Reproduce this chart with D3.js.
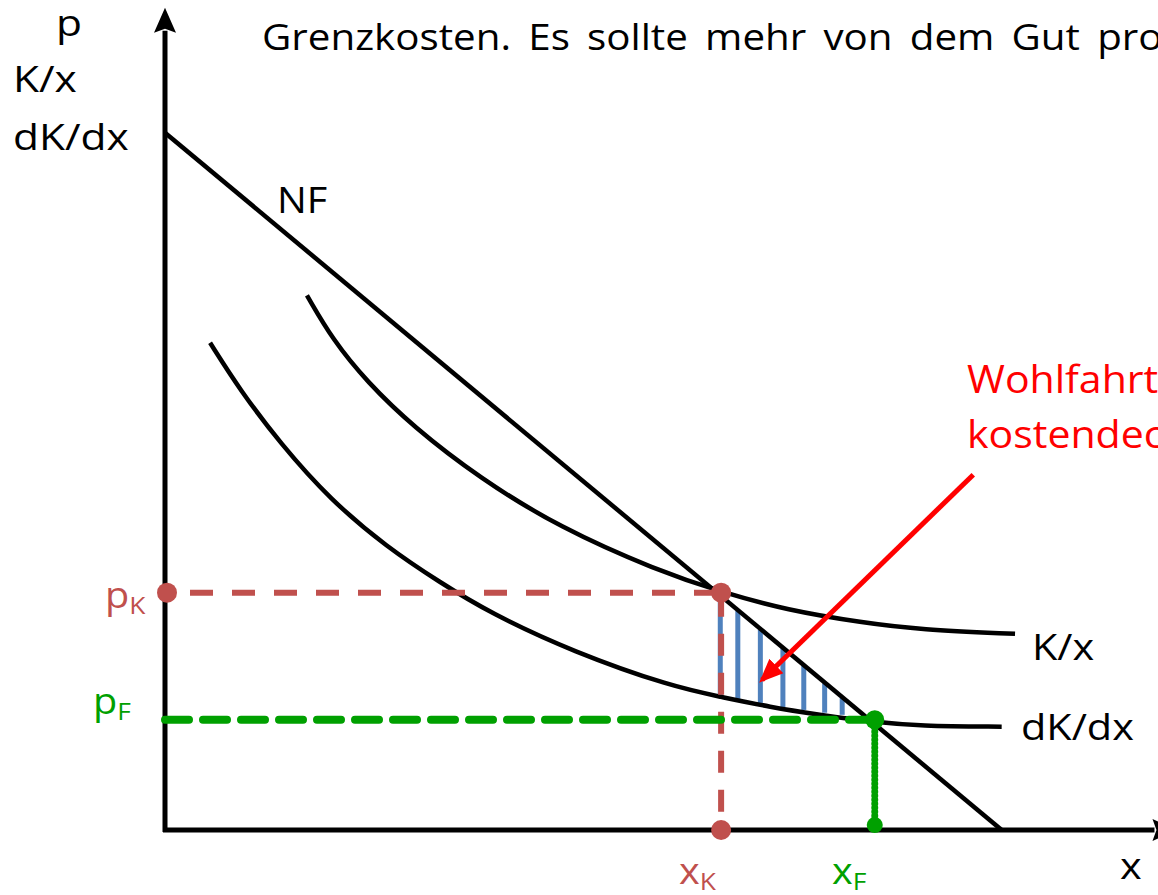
<!doctype html>
<html>
<head>
<meta charset="UTF-8" />
<title>Wohlfahrtsverlust bei Kostendeckung</title>
<script src="https://d3js.org/d3.v7.min.js"></script>
<style>
body { margin: 0; background: #fff; }
svg { display: block; font-family: "Open Sans", sans-serif; }
.axis { stroke: #000; stroke-width: 5px; fill: none; }
.curve { fill: none; stroke: #000; stroke-width: 4.5px; }
.hatch { stroke: #4f81bd; stroke-width: 5px; }
.kline { stroke: #c0504d; stroke-width: 6px; stroke-dasharray: 23 19; fill: none; }
.fline { stroke: #00a000; stroke-width: 8px; stroke-dasharray: 24 14; stroke-linecap: round; fill: none; }
.fdots { stroke: #00a000; stroke-width: 7px; stroke-dasharray: 0 4; stroke-linecap: round; fill: none; }
.lbl { font-size: 36px; fill: #000; }
</style>
</head>
<body>
<svg id="chart"></svg>
<script>
	// Nachfrage (NF), Durchschnittskosten (K/x), Grenzkosten (dK/dx)
	var nfX = [0, 10.02],
		nfY = [9.99, 0];

	var kxX = [1.70, 2.01, 2.42, 2.97, 3.77, 4.73, 5.89, 6.66, 7.45, 8.36, 9.04, 10.18],
		kxY = [7.66, 7.02, 6.42, 5.78, 5.04, 4.33, 3.72, 3.41, 3.15, 2.97, 2.87, 2.81];

	var mcX = [0.54, 0.90, 1.38, 1.98, 2.66, 3.29, 3.89, 4.89, 6.08, 6.65, 7.25, 7.84, 8.44, 9.04, 10.02],
		mcY = [6.98, 6.30, 5.54, 4.73, 4.05, 3.55, 3.11, 2.55, 2.05, 1.91, 1.76, 1.65, 1.55, 1.49, 1.48];

	// Kostendeckung (K) und First-Best (F)
	var xK = 6.66, pK = 3.40,
		xF = 8.50, pF = 1.58;

	// Schraffur des Wohlfahrtsverlusts
	var hatchX   = [6.65, 6.86, 7.13, 7.40, 7.65, 7.90, 8.11],
		hatchTop = [3.36, 3.14, 2.87, 2.60, 2.35, 2.10, 1.89],
		hatchLow = [1.91, 1.87, 1.82, 1.76, 1.72, 1.68, 1.65];

	var arrowFrom = [9.68, 5.09],
		arrowTo   = [7.15, 2.15];

	var topText = "Grenzkosten. Es sollte mehr von dem Gut produziert werden.";
	var noteText = ["Wohlfahrtsverlust bei", "kostendeckendem Preis"];

	var width = 1158, height = 895;

	var x = d3.scaleLinear().domain([0, 10]).range([165, 1000]);
	var y = d3.scaleLinear().domain([0, 10]).range([830, 132]);

	var svg = d3.select("#chart")
		.attr("width", width)
		.attr("height", height);

	var defs = svg.append("defs");
	defs.append("marker")
			.attr("id", "axhead")
			.attr("markerUnits", "userSpaceOnUse")
			.attr("viewBox", "0 -12 26 24")
			.attr("refX", 2)
			.attr("refY", 0)
			.attr("markerWidth", 26)
			.attr("markerHeight", 24)
			.attr("orient", "auto")
		.append("path")
			.attr("d", "M0,-11 L25,0 L0,11 L4,0 Z")
			.attr("fill", "#000");

	defs.append("marker")
			.attr("id", "redhead")
			.attr("markerUnits", "userSpaceOnUse")
			.attr("viewBox", "0 -11 24 22")
			.attr("refX", 20)
			.attr("refY", 0)
			.attr("markerWidth", 24)
			.attr("markerHeight", 22)
			.attr("orient", "auto")
		.append("path")
			.attr("d", "M0,-10 L24,0 L0,10 Z")
			.attr("fill", "#ff0000");

	// hatching (drawn first, under the dashed red line)
	svg.append("g").selectAll("line")
		.data(hatchX)
		.enter().append("line")
			.attr("class", "hatch")
			.attr("x1", function(d) { return x(d); })
			.attr("x2", function(d) { return x(d); })
			.attr("y1", function(d, i) { return y(hatchTop[i]); })
			.attr("y2", function(d, i) { return y(hatchLow[i]); });

	// axes
	svg.append("line")
		.attr("class", "axis")
		.attr("x1", x(0)).attr("y1", y(0) + 2)
		.attr("x2", x(0)).attr("y2", y(11.45))
		.attr("marker-end", "url(#axhead)");

	svg.append("line")
		.attr("class", "axis")
		.attr("x1", x(0) - 2).attr("y1", y(0))
		.attr("x2", x(11.85)).attr("y2", y(0))
		.attr("marker-end", "url(#axhead)");

	var line = d3.line()
		.x(function(d) { return x(d[0]); })
		.y(function(d) { return y(d[1]); });

	var smooth = d3.line()
		.x(function(d) { return x(d[0]); })
		.y(function(d) { return y(d[1]); })
		.curve(d3.curveBasis);

	svg.append("path")
		.attr("class", "curve")
		.attr("d", line(d3.zip(nfX, nfY)));

	svg.append("path")
		.attr("class", "curve")
		.attr("d", smooth(d3.zip(kxX, kxY)));

	svg.append("path")
		.attr("class", "curve")
		.attr("d", smooth(d3.zip(mcX, mcY)));

	// Kostendeckung: dashed red lines
	svg.append("path")
		.attr("class", "kline")
		.attr("d", line([[0, pK], [xK, pK]]))
		.style("stroke-dashoffset", -25);

	svg.append("path")
		.attr("class", "kline")
		.attr("d", line([[xK, pK], [xK, 0]]))
		.style("stroke-dasharray", "22 17")
		.style("stroke-dashoffset", -2);

	// First-Best: dashed green lines
	svg.append("path")
		.attr("class", "fline")
		.attr("d", line([[0, pF], [xF, pF]]));

	svg.append("path")
		.attr("class", "fdots")
		.attr("d", line([[xF, pF], [xF, 0.07]]));

	// points
	var kPts = [[0, pK, 10], [xK, pK, 10], [xK, 0, 10]];
	svg.append("g").selectAll("circle")
		.data(kPts)
		.enter().append("circle")
			.attr("cx", function(d) { return x(d[0]) + (d[0] === 0 ? 2 : 0); })
			.attr("cy", function(d) { return y(d[1]); })
			.attr("r", function(d) { return d[2]; })
			.attr("fill", "#c0504d");

	var fPts = [[xF, pF, 9.5], [xF, 0.07, 8]];
	svg.append("g").selectAll("circle")
		.data(fPts)
		.enter().append("circle")
			.attr("cx", function(d) { return x(d[0]); })
			.attr("cy", function(d) { return y(d[1]); })
			.attr("r", function(d) { return d[2]; })
			.attr("fill", "#00a000");

	// red annotation arrow
	svg.append("line")
		.attr("x1", x(arrowFrom[0])).attr("y1", y(arrowFrom[1]))
		.attr("x2", x(arrowTo[0])).attr("y2", y(arrowTo[1]))
		.attr("stroke", "#ff0000")
		.attr("stroke-width", 5)
		.attr("marker-end", "url(#redhead)");

	// texts (the slide is stretched a little horizontally, so stretch the text too)
	function label(px, py, str, sx, color) {
		var t = svg.append("g")
			.attr("transform", "translate(" + px + "," + py + ") scale(" + sx + ",1)")
		  .append("text")
			.attr("class", "lbl")
			.style("fill", color || "#000");
		if (typeof str === "string") {
			t.text(str);
		} else {
			t.append("tspan").text(str[0]);
			t.append("tspan").attr("dy", 6).style("font-size", "24px").text(str[1]);
		}
		return t;
	}

	label(262, 50, topText, 1.12).style("word-spacing", "6px");

	label(56, 36, "p", 1.18);
	label(13, 92, "K/x", 1.18);
	label(13, 150, "dK/dx", 1.18);

	label(277, 213, "NF", 1.1);
	label(1032, 660, "K/x", 1.15);
	label(1021, 740, "dK/dx", 1.15);
	label(1120, 879, "x", 1.15);

	label(679, 884, ["x", "K"], 1.1, "#c0504d");
	label(832, 884, ["x", "F"], 1.1, "#00a000");
	label(105, 608, ["p", "K"], 1.1, "#c0504d");
	label(93, 714, ["p", "F"], 1.1, "#00a000");

	noteText.forEach(function(d, i) {
		label(967, 393 + i * 55, d, 1.08, "#ff0000").style("font-size", "38px");
	});
</script>
</body>
</html>
